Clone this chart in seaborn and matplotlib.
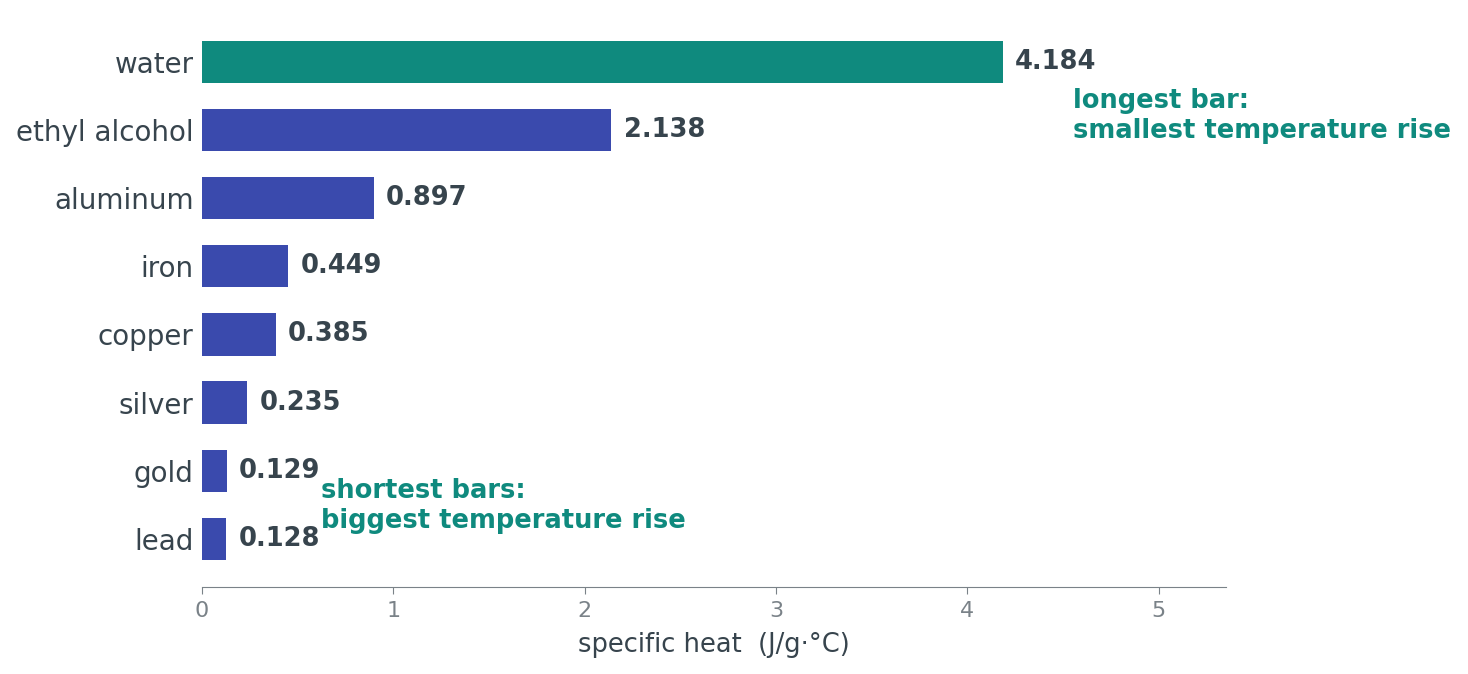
import seaborn as sns
import matplotlib.pyplot as plt

# dados
materials = ["water", "ethyl alcohol", "aluminum", "iron", "copper", "silver", "gold", "lead"]
specific_heat = [4.184, 2.138, 0.897, 0.449, 0.385, 0.235, 0.129, 0.128]
value_labels = ["4.184", "2.138", "0.897", "0.449", "0.385", "0.235", "0.129", "0.128"]

teal = "#0f8a7e"
blue = "#3a4aad"
dark = "#37444d"
grey = "#7a8288"

sns.set_style("white")
plt.rcParams['font.family'] = ['DejaVu Sans']

fig = plt.figure(figsize=(14.68, 6.74), dpi=100)
ax = fig.add_axes([0.1376, 0.129, 0.6974, 0.84])

palette = [teal] + [blue] * (len(materials) - 1)
sns.barplot(x=specific_heat, y=materials, hue=materials, palette=palette,
            legend=False, width=0.62, ax=ax, saturation=1, linewidth=0)

for i, (v, lab) in enumerate(zip(specific_heat, value_labels)):
    ax.annotate(lab, (v, i), xytext=(9, 0), textcoords="offset points",
                va="center", ha="left", fontsize=18.5, fontweight="bold", color=dark)

ax.text(4.55, 0.79, "longest bar:\nsmallest temperature rise", color=teal,
        fontsize=18.5, fontweight="bold", va="center", ha="left")
ax.text(0.62, 6.51, "shortest bars:\nbiggest temperature rise", color=teal,
        fontsize=18.5, fontweight="bold", va="center", ha="left")

ax.set_xlim(0, 5.35)
ax.set_ylim(7.706, -0.6)
ax.set_xticks([0, 1, 2, 3, 4, 5])
ax.set_xlabel("specific heat  (J/g·°C)", fontsize=18.5, color=dark, labelpad=8)
ax.set_ylabel("")

for s in ["top", "right", "left"]:
    ax.spines[s].set_visible(False)
ax.spines["bottom"].set_color(grey)
ax.tick_params(axis="x", colors=grey, labelsize=16, length=5, direction="out", pad=5)
ax.tick_params(axis="y", length=0, labelsize=20, labelcolor=dark, pad=6)
ax.xaxis.set_ticks_position("bottom")

plt.savefig("out.png", dpi=100)
